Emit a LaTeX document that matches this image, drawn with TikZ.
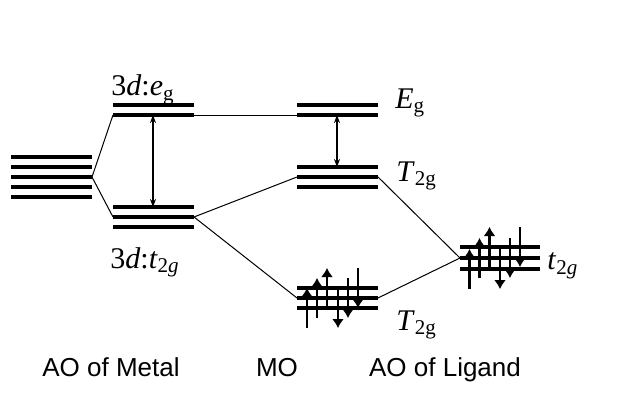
\documentclass[tikz,border=0pt]{standalone}
\usepackage{fontspec}
\setmainfont{Liberation Serif}
\setsansfont{Liberation Sans}
\usetikzlibrary{arrows.meta}
\begin{document}
\begin{tikzpicture}[x=0.5pt,y=-0.5pt,>=latex,
  level/.style={line width=1.6pt},
  link/.style={line width=0.5pt},
  gap/.style={{Stealth[length=4pt,width=3pt]}-{Stealth[length=4pt,width=3pt]},line width=0.8pt},
  spin/.style={-{Latex[length=4.5pt,width=6pt]},line width=1.4pt},
  lab/.style={font=\fontsize{15}{17}\selectfont,anchor=base west,inner sep=0pt},
  axistext/.style={font=\sffamily\fontsize{13}{15}\selectfont,anchor=base,inner sep=0pt}]
\useasboundingbox (0,0) rectangle (623,396);
\def\w{81}
% metal 3d, five levels
\foreach \y in {157,167,177,187,197} \draw[level] (11,\y) -- ++(\w,0);
\coordinate (d) at (92,177);
% metal e_g and t_2g
\foreach \y in {105,115} \draw[level] (113,\y) -- ++(\w,0);
\foreach \y in {207,217,227} \draw[level] (113,\y) -- ++(\w,0);
\coordinate (egL) at (113,115);
\coordinate (egR) at (194,115);
\coordinate (egB) at (153,115);
\coordinate (tL) at (113,217);
\coordinate (tR) at (194,217);
\coordinate (tT) at (153,207);
% MO levels
\foreach \y in {105,115} \draw[level] (297,\y) -- ++(\w,0);
\foreach \y in {167,177,187} \draw[level] (297,\y) -- ++(\w,0);
\foreach \y in {288,298,308} \draw[level] (297,\y) -- ++(\w,0);
\coordinate (EL) at (297,115);
\coordinate (EB) at (337,115);
\coordinate (TuL) at (297,177);
\coordinate (TuR) at (378,177);
\coordinate (TuT) at (337,167);
\coordinate (TlL) at (297,298);
\coordinate (TlR) at (378,298);
% ligand t_2g
\foreach \y in {247,258,269} \draw[level] (460,\y) -- ++(80,0);
\coordinate (lig) at (460,258);
% electrons
\foreach \i/\y in {0/308,1/298,2/288} {
  \draw[spin] ({297+10+10*\i},\y+20) -- ++(0,-40);
  \draw[spin] ({297+41+10*\i},\y-20) -- ++(0,40);
}
\foreach \i/\y in {0/269,1/258,2/247} {
  \draw[spin] ({460+9.5+10*\i},\y+20) -- ++(0,-40);
  \draw[spin] ({460+40+10*\i},\y-20) -- ++(0,40);
}
% connectors
\draw[link] (egL) -- (d) -- (tL);
\draw[link] (egR) -- (EL);
\draw[link] (TuL) -- (tR) -- (TlL);
\draw[link] (TuR) -- (lig) -- (TlR);
\draw[gap] (egB) -- (tT);
\draw[gap] (EB) -- (TuT);
% labels
\node[lab] (eg) at (111,96) {3\textit{d}:\textit{e}\textsubscript{g}};
\node[lab] (t2g) at (110,268) {3\textit{d}:\textit{t}\textsubscript{2\textit{g}}};
\node[lab] (Eg) at (395,108) {\textit{E}\textsubscript{g}};
\node[lab] (T2a) at (396,181) {\textit{T}\textsubscript{2g}};
\node[lab] (T2b) at (396,330) {\textit{T}\textsubscript{2g}};
\node[lab] (tlig) at (547,270) {\textit{t}\textsubscript{2\textit{g}}};
\node[axistext] (metal) at (111,377) {AO of Metal};
\node[axistext] (mo) at (277,377) {MO};
\node[axistext] (ligand) at (445,377) {AO of Ligand};
\end{tikzpicture}
\end{document}
